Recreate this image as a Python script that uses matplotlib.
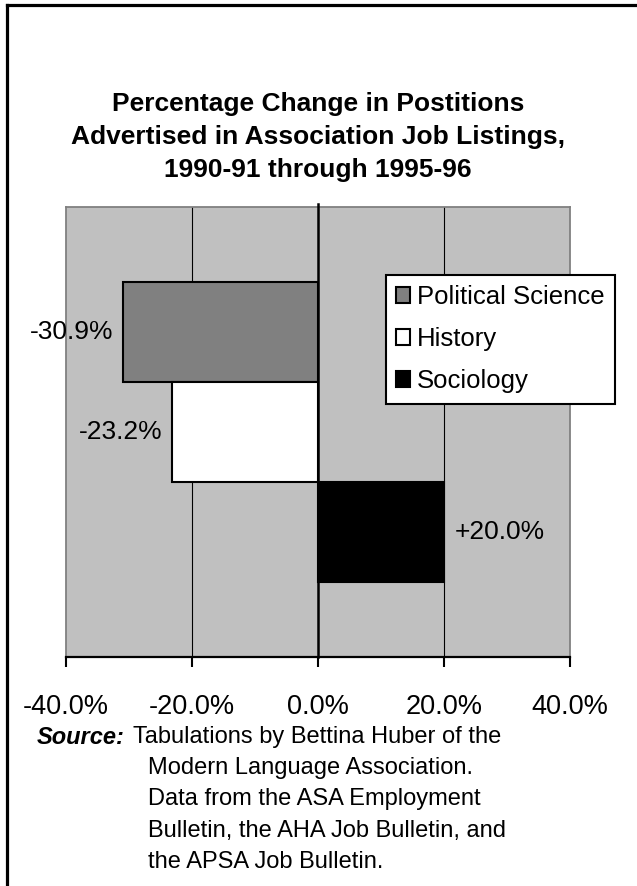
import matplotlib
matplotlib.use('Agg')
import matplotlib.pyplot as plt
from matplotlib.lines import Line2D

plt.rcParams['font.family'] = ['Liberation Sans', 'DejaVu Sans']

# data
series = ['Political Science', 'History', 'Sociology']
changes = [-30.9, -23.2, 20.0]
labels = ['-30.9%', '-23.2%', '+20.0%']
colors = ['#808080', '#ffffff', '#000000']
xticks = [-40, -20, 0, 20, 40]
xticklabels = ['-40.0%', '-20.0%', '0.0%', '20.0%', '40.0%']

W, H = 637, 886
fig = plt.figure(figsize=(W / 100, H / 100), dpi=100)

# plot area
ax = fig.add_axes([66 / W, 1 - 657 / H, 504 / W, 450 / H])
ax.set_facecolor('#c0c0c0')

for i in range(len(series)):
    ax.barh(1.25 + i, changes[i], height=1.0, color=colors[i],
            edgecolor='black', linewidth=1.5, label=series[i], zorder=3)
    if changes[i] < 0:
        ax.annotate(labels[i], (changes[i], 1.25 + i), xytext=(-7, 0),
                    textcoords='offset points', ha='right', va='center', fontsize=19)
    else:
        ax.annotate(labels[i], (changes[i], 1.25 + i), xytext=(8, 0),
                    textcoords='offset points', ha='left', va='center', fontsize=19)

ax.set_xlim(-40, 40)
ax.set_ylim(4.5, 0)
for g in [-20, 20]:
    ax.axvline(g, color='black', linewidth=0.8, zorder=1)
ax.axvline(0, ymin=0, ymax=1.006, color='black', linewidth=1.8, zorder=4, clip_on=False)

ax.set_yticks([])
ax.set_xticks(xticks)
ax.set_xticklabels(xticklabels, fontsize=19.5)
ax.tick_params(axis='x', direction='out', length=7.5, width=1.5, color='black', pad=19)

for s in ['left', 'right', 'top']:
    ax.spines[s].set_color('#808080')
    ax.spines[s].set_linewidth(1.3)
ax.spines['bottom'].set_color('black')
ax.spines['bottom'].set_linewidth(1.6)

# legend
leg = fig.legend(loc='upper left', bbox_to_anchor=(386 / W, 1 - 275 / H), fontsize=18.5,
                 frameon=True, fancybox=False, edgecolor='black', framealpha=1,
                 handlelength=0.55, handleheight=0.55, handletextpad=0.25,
                 labelspacing=0.7, borderpad=0.4, borderaxespad=0)
leg.get_frame().set_linewidth(1.5)

# title
fig.text(318 / W, 1 - 137 / H,
         'Percentage Change in Postitions\nAdvertised in Association Job Listings,\n1990-91 through 1995-96',
         ha='center', va='center', fontsize=19, fontweight='bold', linespacing=1.47)

# source note
fig.text(37 / W, 1 - 737 / H, 'Source:', fontsize=17, fontweight='bold', style='italic', va='center')
fig.text(133 / W, 1 - 737 / H, 'Tabulations by Bettina Huber of the', fontsize=17, va='center')
notes = ['Modern Language Association.', 'Data from the ASA Employment',
         'Bulletin, the AHA Job Bulletin, and', 'the APSA Job Bulletin.']
for k, t in enumerate(notes):
    fig.text(148 / W, 1 - (768 + 31.3 * k) / H, t, fontsize=17, va='center')

# outer border (left and top only)
fig.add_artist(Line2D([7 / W, 7 / W], [0, 1 - 5 / H], color='black', linewidth=2.3))
fig.add_artist(Line2D([7 / W, 1], [1 - 5 / H, 1 - 5 / H], color='black', linewidth=2.3))

fig.savefig('out.png', dpi=100)
